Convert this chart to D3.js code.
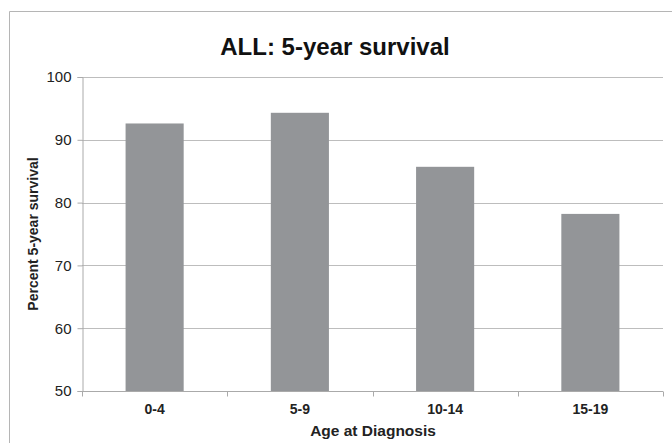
<!DOCTYPE html>
<html><head><meta charset="utf-8">
<script src="https://cdn.jsdelivr.net/npm/d3@7"></script>
<style>
html,body{margin:0;padding:0;background:#fff;}
svg{display:block;font-family:"Liberation Sans",Arial,Helvetica,sans-serif;}
</style></head>
<body>
<svg id="c" width="672" height="443"></svg>
<script>
const categories = ["0-4", "5-9", "10-14", "15-19"];
const values = [92.6, 94.3, 85.7, 78.2];
const yTicks = [50, 60, 70, 80, 90, 100];
const title = "ALL: 5-year survival";
const xTitle = "Age at Diagnosis";
const yTitle = "Percent 5-year survival";

const svg = d3.select("#c");
const pLeft = 82, pRight = 663, pTop = 77, pBottom = 391;

// outer border
svg.append("path").attr("d", "M9.5,443 V11.5 H672")
  .attr("fill", "none").attr("stroke", "#b5b5b5").attr("stroke-width", 1);

const x = d3.scaleBand().domain(categories).range([pLeft, pRight]).paddingInner(0.6).paddingOuter(0.3);
const y = d3.scaleLinear().domain([50, 100]).range([pBottom, pTop]);

// gridlines
svg.append("g").selectAll("line").data(yTicks.filter(t => t > 50)).join("line")
  .attr("x1", pLeft).attr("x2", pRight)
  .attr("y1", d => Math.round(y(d)) + 0.5).attr("y2", d => Math.round(y(d)) + 0.5)
  .attr("stroke", "#bdbdbd").attr("stroke-width", 1);

// bars
svg.append("g").selectAll("rect").data(values).join("rect")
  .attr("x", (d, i) => x(categories[i])).attr("width", x.bandwidth())
  .attr("y", d => y(d)).attr("height", d => y(50) - y(d))
  .attr("fill", "#939598");

// y axis
const ya = svg.append("g").attr("transform", `translate(${pLeft + 0.5},0)`)
  .call(d3.axisLeft(y).tickValues(yTicks).tickSize(5).tickPadding(6).tickFormat(d3.format("d")));
ya.select(".domain").attr("stroke", "#aaaaaa");
ya.selectAll(".tick line").attr("stroke", "#aaaaaa");
ya.selectAll(".tick text").attr("font-size", 15).attr("fill", "#222")
  .attr("font-family", "Liberation Sans, Arial, sans-serif");

// x axis with boundary ticks
const xa = svg.append("g").attr("transform", `translate(0,${Math.round(pBottom) + 0.5})`);
xa.append("line").attr("x1", pLeft).attr("x2", pRight).attr("stroke", "#aaaaaa");
const bounds = d3.range(categories.length + 1).map(i => pLeft + i * (pRight - pLeft) / categories.length);
xa.selectAll("line.tk").data(bounds).join("line").attr("class", "tk")
  .attr("x1", d => Math.round(d) + 0.5).attr("x2", d => Math.round(d) + 0.5)
  .attr("y1", 0).attr("y2", 5).attr("stroke", "#aaaaaa");
xa.selectAll("text").data(categories).join("text")
  .attr("x", d => x(d) + x.bandwidth() / 2).attr("y", 22)
  .attr("text-anchor", "middle").attr("font-size", 14).attr("font-weight", "bold").attr("fill", "#222")
  .text(d => d);

// titles
svg.append("text").attr("x", 335).attr("y", 55).attr("text-anchor", "middle")
  .attr("font-size", 24).attr("font-weight", "bold").attr("fill", "#111").text(title);
svg.append("text").attr("x", 373).attr("y", 436).attr("text-anchor", "middle")
  .attr("font-size", 15.5).attr("font-weight", "bold").attr("fill", "#222").text(xTitle);
svg.append("text").attr("transform", "translate(38,234) rotate(-90)").attr("text-anchor", "middle")
  .attr("font-size", 14).attr("font-weight", "bold").attr("fill", "#222").text(yTitle);
</script>
</body></html>
